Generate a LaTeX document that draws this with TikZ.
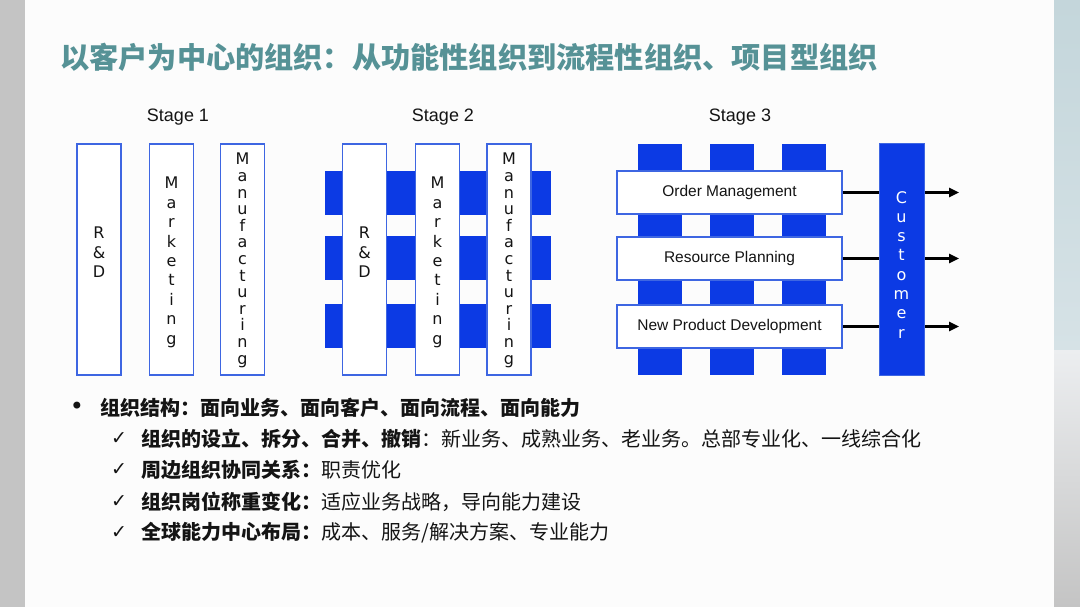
\documentclass[tikz,border=0pt]{standalone}
\usepackage{fontspec}
\setmainfont{Liberation Sans}
\newfontfamily\cjk{Noto Sans CJK SC}
\newfontfamily\djv{DejaVu Sans}
\usetikzlibrary{arrows.meta}
\definecolor{tealtitle}{RGB}{86,146,150}
\definecolor{bblue}{RGB}{12,58,228}
\definecolor{bline}{RGB}{62,102,226}
\definecolor{slidebg}{RGB}{252,252,252}
\definecolor{leftgrey}{RGB}{196,196,196}
\definecolor{rtop}{RGB}{196,214,219}
\definecolor{rmid}{RGB}{214,226,230}
\definecolor{rlight}{RGB}{236,238,240}
\definecolor{rbot}{RGB}{196,196,196}
\definecolor{txtc}{RGB}{20,20,20}
\begin{document}
\begin{tikzpicture}[x=1pt,y=-1pt,
  col/.style={draw=bline,line width=1.3pt,fill=white,minimum width=44pt,minimum height=231pt,inner sep=0pt},
  bar/.style={fill=bblue,minimum width=44pt,minimum height=231pt,inner sep=0pt},
  band/.style={fill=bblue,minimum width=226pt,minimum height=44pt,inner sep=0pt},
  hbox/.style={draw=bline,line width=1.3pt,fill=white,minimum width=225pt,minimum height=43pt,inner sep=0pt,font=\fontsize{15.5}{18}\selectfont,text=txtc},
  vtext/.style={anchor=north,align=center,inner sep=0pt,text=txtc},
  stagelbl/.style={font=\fontsize{18}{20}\selectfont,text=txtc,inner sep=0pt},
  arr/.style={line width=2.4pt,-{Triangle[length=10pt,width=9pt]}},
  txt/.style={font=\cjk\fontsize{20}{24}\selectfont,text=txtc,inner sep=0pt,anchor=west},
  chk/.style={font=\djv\fontsize{19}{22}\selectfont,text=txtc,inner sep=0pt}
]
% background
\fill[slidebg] (0,0) rectangle (1080,607);
\fill[leftgrey] (0,0) rectangle (25,607);
\shade[top color=rtop,bottom color=rmid] (1054,0) rectangle (1080,350);
\shade[top color=rlight,bottom color=rbot] (1054,350) rectangle (1080,607);
\useasboundingbox (0,0) rectangle (1080,607);

% title
\node[anchor=west,font=\cjk\bfseries\fontsize{29.2}{32}\selectfont,text=tealtitle,inner sep=0pt] (title) at (60,57) {以客户为中心的组织：从功能性组织到流程性组织、项目型组织};

% Stage 1
\node[stagelbl] (st1) at (178,117) {Stage 1};
\node[col] (s1a) at (99,259.5) {};
\node[col] (s1b) at (171.5,259.5) {};
\node[col] (s1c) at (242.5,259.5) {};
\node[vtext,font=\djv\fontsize{16}{19.5}\selectfont] (t1a) at (99,227) {R\\\&\\D};
\node[vtext,font=\djv\fontsize{16}{19.4}\selectfont] (t1b) at (171.5,177) {M\\a\\r\\k\\e\\t\\i\\n\\g};
\node[vtext,font=\djv\fontsize{16}{16.6}\selectfont] (t1c) at (242.5,153) {M\\a\\n\\u\\f\\a\\c\\t\\u\\r\\i\\n\\g};

% Stage 2
\node[stagelbl] (st2) at (443,117) {Stage 2};
\node[band] (b2a) at (438,193) {};
\node[band] (b2b) at (438,258) {};
\node[band] (b2c) at (438,326) {};
\node[col] (s2a) at (364.5,259.5) {};
\node[col] (s2b) at (437.5,259.5) {};
\node[col] (s2c) at (509,259.5) {};
\node[vtext,font=\djv\fontsize{16}{19.5}\selectfont] (t2a) at (364.5,227) {R\\\&\\D};
\node[vtext,font=\djv\fontsize{16}{19.4}\selectfont] (t2b) at (437.5,177) {M\\a\\r\\k\\e\\t\\i\\n\\g};
\node[vtext,font=\djv\fontsize{16}{16.6}\selectfont] (t2c) at (509,153) {M\\a\\n\\u\\f\\a\\c\\t\\u\\r\\i\\n\\g};

% Stage 3
\node[stagelbl] (st3) at (740,117) {Stage 3};
\node[bar] (v3a) at (659.5,259.5) {};
\node[bar] (v3b) at (732,259.5) {};
\node[bar] (v3c) at (803.5,259.5) {};
\node[hbox] (h1) at (729.5,192.5) {Order Management};
\node[hbox] (h2) at (729.5,258.5) {Resource Planning};
\node[hbox] (h3) at (729.5,326.5) {New Product Development};
\coordinate (e1) at (959,192.5);
\coordinate (e2) at (959,258.5);
\coordinate (e3) at (959,326.5);
\draw[arr] (h1.east) -- (e1);
\draw[arr] (h2.east) -- (e2);
\draw[arr] (h3.east) -- (e3);
\node[bar,draw=bline,line width=1pt,minimum width=45pt] (cust) at (901.5,259.5) {};
\node[vtext,text=white,font=\djv\fontsize{16}{19.3}\selectfont] (tcust) at (901.5,191) {C\\u\\s\\t\\o\\m\\e\\r};

% bullet text
\node[txt,anchor=center,font=\djv\fontsize{24}{26}\selectfont] (b1) at (77,408) {•};
\node[txt] (l1) at (100,408) {\bfseries 组织结构：面向业务、面向客户、面向流程、面向能力};
\node[chk] (c2) at (119,439) {✓};
\node[txt] (l2) at (141,439) {{\bfseries 组织的设立、拆分、合并、撤销}：新业务、成熟业务、老业务。总部专业化、一线综合化};
\node[chk] (c3) at (119,470) {✓};
\node[txt] (l3) at (141,470) {{\bfseries 周边组织协同关系：}职责优化};
\node[chk] (c4) at (119,502) {✓};
\node[txt] (l4) at (141,502) {{\bfseries 组织岗位称重变化：}适应业务战略，导向能力建设};
\node[chk] (c5) at (119,533) {✓};
\node[txt] (l5) at (141,533) {{\bfseries 全球能力中心布局：}成本、服务/解决方案、专业能力};
\end{tikzpicture}
\end{document}
